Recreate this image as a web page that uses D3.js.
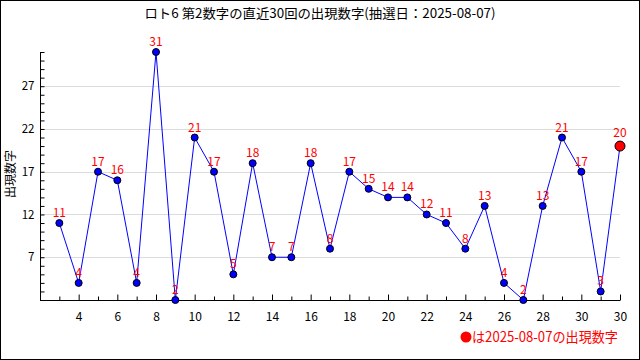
<!DOCTYPE html>
<html><head><meta charset="utf-8">
<script src="https://cdn.jsdelivr.net/npm/d3@7"></script>
<style>body{margin:0;background:#fff}svg{display:block}text{font-family:"Noto Sans CJK JP","DejaVu Sans",sans-serif}</style>
</head><body><svg id="c" width="640" height="360"></svg>
<script>
const title = "ロト6 第2数字の直近30回の出現数字(抽選日：2025-08-07)";
const yLabel = "出現数字";
const legendText = "は2025-08-07の出現数字";
const drawIndex = [3,4,5,6,7,8,9,10,11,12,13,14,15,16,17,18,19,20,21,22,23,24,25,26,27,28,29,30,31,32];
const values = [11,4,17,16,4,31,2,21,17,5,18,7,7,18,8,17,15,14,14,12,11,8,13,4,2,13,21,17,3,20];
const xTickValues = [4,6,8,10,12,14,16,18,20,22,24,26,28,30,32];
const xTickLabels = ["4","6","8","10","12","14","16","18","20","22","24","26","28","30","30"];
const yTickValues = [7,12,17,22,27];

const svg = d3.select("#c");
const L=40, R=620, T=52, B=300;
const x = d3.scaleLinear().domain([2,32]).range([L,R]);
const y = d3.scaleLinear().domain([2,31]).range([B,T]).clamp(true);

svg.append("rect").attr("x",0.5).attr("y",0.5).attr("width",639).attr("height",359).attr("fill","#fff").attr("stroke","#000");

// gridlines
svg.append("g").selectAll("line").data(yTickValues).join("line")
  .attr("x1",L).attr("x2",R).attr("y1",d=>Math.round(y(d))+0.5).attr("y2",d=>Math.round(y(d))+0.5)
  .attr("stroke","#dcdcdc");

// y axis
const ya = svg.append("g").attr("transform",`translate(${L+0.5},0)`)
  .call(d3.axisLeft(y).tickValues(d3.range(2,32)).tickSize(-4).tickFormat(d=>yTickValues.includes(d)?d:"").tickPadding(10));
ya.select(".domain").attr("d",`M0,${T}V${B+0.5}`);
ya.selectAll("text").attr("font-size",11.5).attr("fill","#000").attr("font-family","'DejaVu Sans',sans-serif").attr("x",-6);

// x axis
const xa = svg.append("g").attr("transform",`translate(0,${B+0.5})`)
  .call(d3.axisBottom(x).tickValues(d3.range(2,33)).tickSize(-4).tickFormat(d=>{const i=xTickValues.indexOf(d);return i>=0?xTickLabels[i]:"";}).tickPadding(12));
xa.select(".domain").attr("d",`M${L},0H${R}`);
xa.selectAll(".tick line").attr("y2",d=>xTickValues.includes(d)?-6:-4);
xa.selectAll("text").attr("font-size",12).attr("fill","#000").attr("font-family","'DejaVu Sans',sans-serif");

// title
svg.append("text").attr("x",320).attr("y",18).attr("text-anchor","middle").attr("font-size",13)
  .attr("textLength",351).attr("lengthAdjust","spacingAndGlyphs").text(title);
// y label
svg.append("text").attr("transform","translate(15,174) rotate(-90)").attr("text-anchor","middle").attr("font-size",12).text(yLabel);

const pts = drawIndex.map((d,i)=>({x:d,v:values[i],last:i===values.length-1}));
svg.append("path").datum(pts).attr("fill","none").attr("stroke","#0000ff").attr("stroke-width",1)
  .attr("d",d3.line().x(d=>x(d.x)).y(d=>y(d.v)));
svg.append("g").selectAll("circle").data(pts).join("circle")
  .attr("cx",d=>x(d.x)).attr("cy",d=>y(d.v)).attr("r",d=>d.last?5:3.5)
  .attr("fill",d=>d.last?"#ff0000":"#0000ff").attr("stroke","#000").attr("stroke-width",1);
svg.append("g").selectAll("text").data(pts).join("text")
  .attr("x",d=>x(d.x)).attr("y",d=>y(d.v)-(d.last?9:6)).attr("text-anchor","middle")
  .attr("font-size",12).attr("fill","#ff0000").attr("font-family","'DejaVu Sans',sans-serif").text(d=>d.v);

// legend
svg.append("circle").attr("cx",466).attr("cy",337).attr("r",5.5).attr("fill","#ff0000");
svg.append("text").attr("x",472).attr("y",342).attr("font-size",14).attr("fill","#ff0000")
  .attr("textLength",146).attr("lengthAdjust","spacingAndGlyphs").text(legendText);
</script></body></html>
